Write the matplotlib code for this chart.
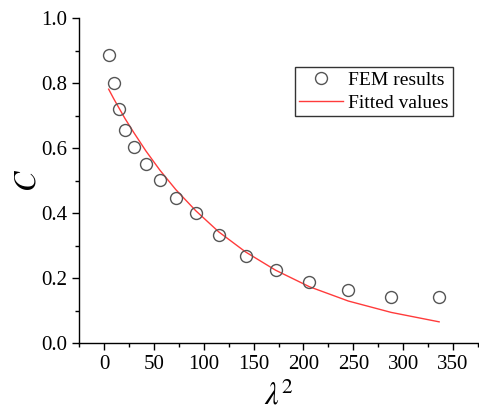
import numpy as np
import matplotlib.pyplot as plt
from matplotlib.ticker import MultipleLocator

plt.rcParams['font.family'] = ['Liberation Serif', 'DejaVu Serif']
plt.rcParams['mathtext.fontset'] = 'stix'

# FEM results and fitted curve, C against lambda^2
lam2 = [4.7, 9.7, 14.7, 21, 30, 42, 56, 72, 92, 115, 142, 172, 206, 245, 288, 336]
c_fem = [0.886, 0.800, 0.720, 0.655, 0.603, 0.551, 0.502, 0.448, 0.400,
         0.333, 0.268, 0.227, 0.190, 0.163, 0.143, 0.142]
c_fit = [0.782, 0.753, 0.726, 0.692, 0.648, 0.592, 0.533, 0.473, 0.408,
         0.343, 0.281, 0.225, 0.174, 0.130, 0.095, 0.066]

fig = plt.figure(figsize=(4.79, 4.15), dpi=100)
ax = fig.add_axes([0.165, 0.1728, 0.833, 0.783])

ax.plot(lam2, c_fem, 'o', mfc='none', mec='#555555', mew=1.0, ms=8.6,
        label='FEM results', zorder=3)
ax.plot(lam2, c_fit, '-', color='#ff3b3b', lw=1.0, label='Fitted values')

ax.set_xlim(-25, 375)
ax.set_ylim(0, 1.0)
ax.xaxis.set_minor_locator(MultipleLocator(25))
ax.yaxis.set_major_locator(MultipleLocator(0.2))
ax.yaxis.set_minor_locator(MultipleLocator(0.1))
ax.set_xticks(np.arange(0, 351, 50))
ax.yaxis.set_major_formatter(plt.FormatStrFormatter('%.1f'))

for s in ['top', 'right']:
    ax.spines[s].set_visible(False)
for s in ['left', 'bottom']:
    ax.spines[s].set_linewidth(1.0)

ax.tick_params(which='major', direction='out', length=5, width=1, labelsize=15)
ax.tick_params(which='minor', direction='out', length=3, width=1)

ax.set_ylabel('$C$', fontsize=22, labelpad=-1)
ax.set_xlabel(r'$\lambda^2$', fontsize=22, labelpad=6)

leg = ax.legend(loc='upper left', bbox_to_anchor=(0.541, 0.85), fontsize=14,
                frameon=True, fancybox=False, edgecolor='black',
                borderpad=0.2, handlelength=2.25, handletextpad=0.3,
                labelspacing=0.3, borderaxespad=0)
leg.get_frame().set_linewidth(1.0)

fig.savefig('out.png', dpi=100)
